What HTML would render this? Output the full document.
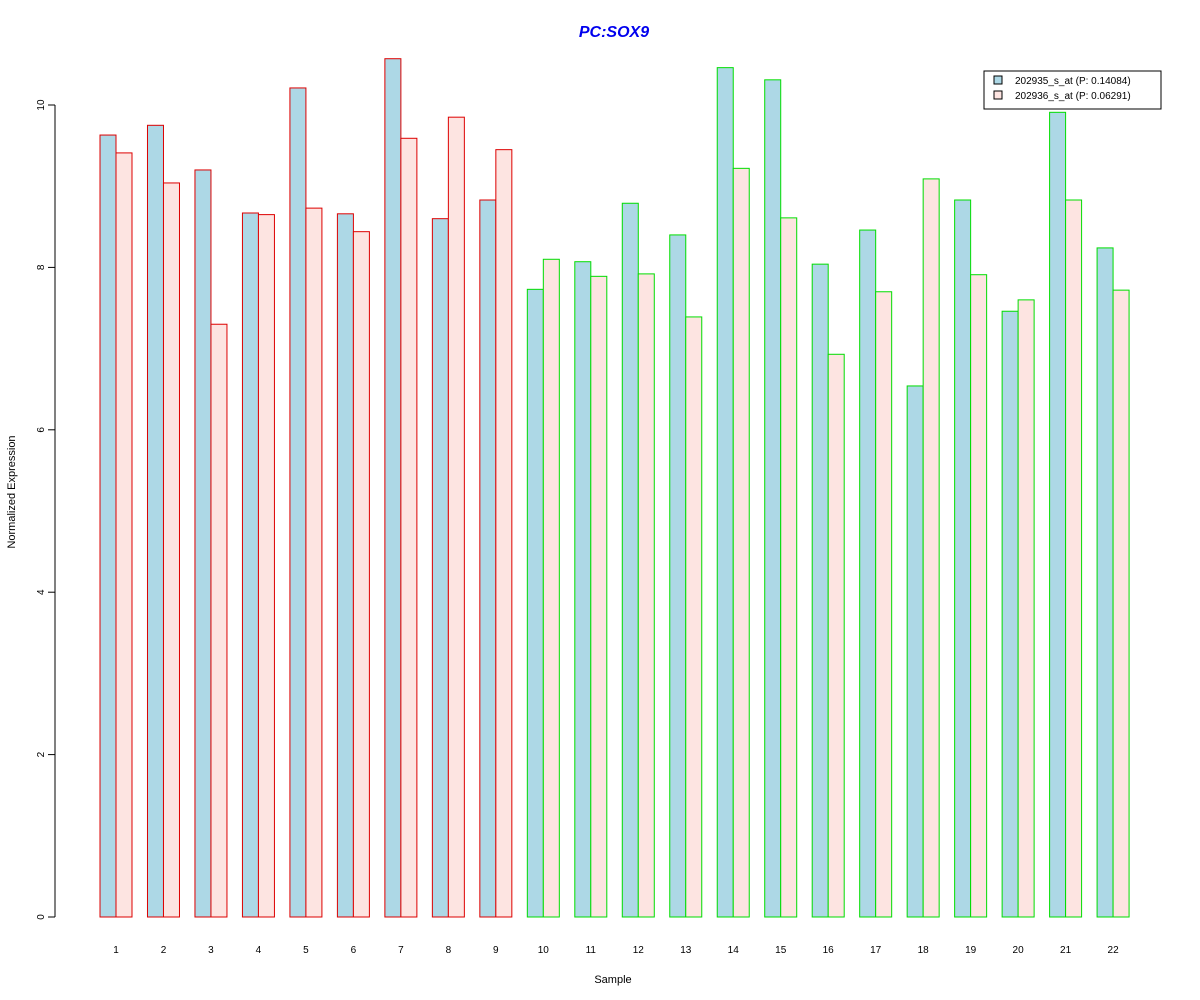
<!DOCTYPE html>
<html><head><meta charset="utf-8"><style>
body{margin:0;background:#fff}
svg{display:block;font-family:"Liberation Sans",Arial,sans-serif}
</style></head><body>
<svg id="chart" width="1200" height="1000">
<text x="614" y="37" text-anchor="middle" font-size="16" font-weight="bold" font-style="italic" fill="#0000ee">PC:SOX9</text>
<text x="613" y="983" text-anchor="middle" font-size="11">Sample</text>
<text transform="translate(15,492) rotate(-90)" text-anchor="middle" font-size="11">Normalized Expression</text>
<g id="yaxis"></g>
<g id="bars"></g>
<g id="xlabels"></g>
<g>
<rect x="984" y="71" width="177" height="38" fill="#fff" stroke="#000" stroke-width="1"/>
<rect x="994" y="76" width="8" height="8" fill="#add8e6" stroke="#000"/>
<text x="1015" y="84" font-size="10">202935_s_at (P: 0.14084)</text>
<rect x="994" y="91" width="8" height="8" fill="#fde4e1" stroke="#000"/>
<text x="1015" y="99" font-size="10">202936_s_at (P: 0.06291)</text>
</g>
</svg>
<script>
const categories=["1","2","3","4","5","6","7","8","9","10","11","12","13","14","15","16","17","18","19","20","21","22"];
const series1=[9.63,9.75,9.2,8.67,10.21,8.66,10.57,8.6,8.83,7.73,8.07,8.79,8.4,10.46,10.31,8.04,8.46,6.54,8.83,7.46,9.91,8.24];
const series2=[9.41,9.04,7.30,8.65,8.73,8.44,9.59,9.85,9.45,8.10,7.89,7.92,7.39,9.22,8.61,6.93,7.70,9.09,7.91,7.60,8.83,7.72];
const groupOutline=["red","red","red","red","red","red","red","red","red","green","green","green","green","green","green","green","green","green","green","green","green","green"];
const yTicks=[0,2,4,6,8,10];
const NS="http://www.w3.org/2000/svg";
const y=v=>917-v*81.2;
const xc=i=>116+i*47.48;
const bw=16;
const outlineColor={red:"#dd0000",green:"#00dd00"};
const yaxis=document.getElementById("yaxis");
const al=document.createElementNS(NS,"line");


al.setAttribute("x1",55);al.setAttribute("x2",55);al.setAttribute("y1",y(10));al.setAttribute("y2",y(0));al.setAttribute("stroke","#000");
yaxis.appendChild(al);
yTicks.forEach(t=>{
 const tl=document.createElementNS(NS,"line");
 
 
 tl.setAttribute("x1",48);tl.setAttribute("x2",55);tl.setAttribute("y1",y(t));tl.setAttribute("y2",y(t));tl.setAttribute("stroke","#000");
 yaxis.appendChild(tl);
 const tx=document.createElementNS(NS,"text");
 
 
 tx.setAttribute("transform",`translate(44,${y(t)}) rotate(-90)`);
 tx.setAttribute("text-anchor","middle");tx.setAttribute("font-size","10");
 tx.textContent=t;yaxis.appendChild(tx);
});
const bars=document.getElementById("bars"),xl=document.getElementById("xlabels");
categories.forEach((c,i)=>{
 const col=outlineColor[groupOutline[i]];
 [[series1[i],"#add8e6",-bw],[series2[i],"#fde4e1",0]].forEach((s,k)=>{
  const r=document.createElementNS(NS,"rect");
  
  
  r.setAttribute("x",xc(i)+s[2]);r.setAttribute("width",bw);
  r.setAttribute("y",y(s[0]));r.setAttribute("height",y(0)-y(s[0]));
  r.setAttribute("fill",s[1]);r.setAttribute("stroke",col);r.setAttribute("stroke-width","1");
  bars.appendChild(r);
 });
 const t=document.createElementNS(NS,"text");
 
 
 t.setAttribute("x",xc(i));t.setAttribute("y",953);t.setAttribute("text-anchor","middle");t.setAttribute("font-size","10");
 t.textContent=c;xl.appendChild(t);
});
</script>
</body></html>
